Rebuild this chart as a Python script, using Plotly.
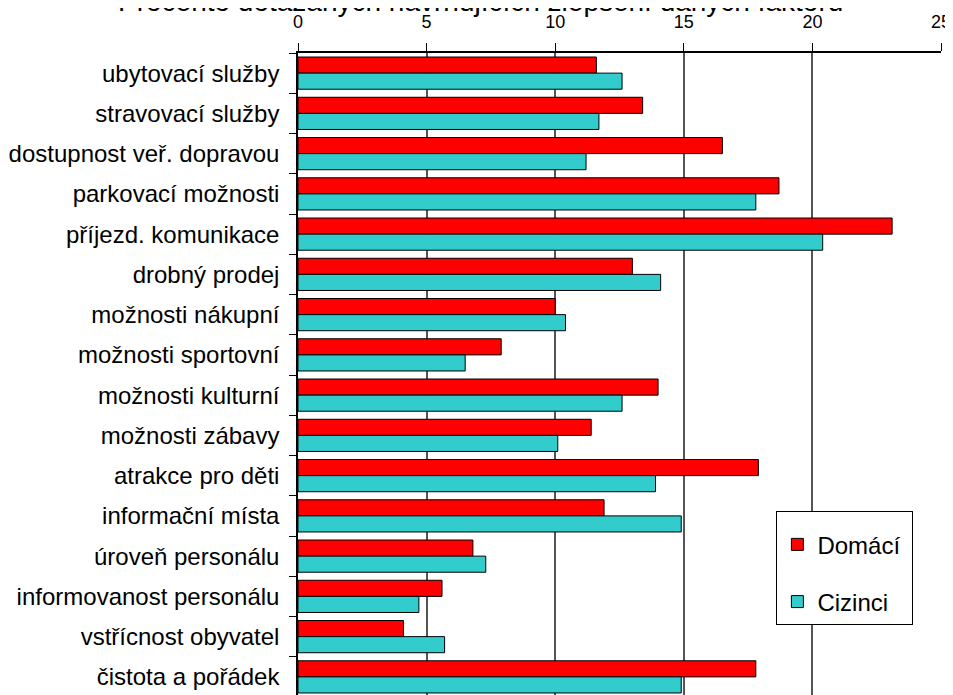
import plotly.graph_objects as go

# kategorie (shora dolů) a hodnoty v %
categories = [
    "ubytovací služby",
    "stravovací služby",
    "dostupnost veř. dopravou",
    "parkovací možnosti",
    "příjezd. komunikace",
    "drobný prodej",
    "možnosti nákupní",
    "možnosti sportovní",
    "možnosti kulturní",
    "možnosti zábavy",
    "atrakce pro děti",
    "informační místa",
    "úroveň personálu",
    "informovanost personálu",
    "vstřícnost obyvatel",
    "čistota a pořádek",
]
domaci = [11.6, 13.4, 16.5, 18.7, 23.1, 13.0, 10.0, 7.9, 14.0, 11.4, 17.9, 11.9, 6.8, 5.6, 4.1, 17.8]
cizinci = [12.6, 11.7, 11.2, 17.8, 20.4, 14.1, 10.4, 6.5, 12.6, 10.1, 13.9, 14.9, 7.3, 4.7, 5.7, 14.9]
x_ticks = [0, 5, 10, 15, 20, 25]

FONT = "Liberation Sans, Arial, sans-serif"

# stránka má okraj body 8 px -> okraje grafu o to menší
fig = go.Figure()
fig.add_trace(go.Bar(
    y=categories, x=domaci, name="Domácí\u00a0", orientation="h",
    marker=dict(color="#FF0000", line=dict(color="#000000", width=1)),
    legendgroup="d",
))
fig.add_trace(go.Bar(
    y=categories, x=cizinci, name="Cizinci", orientation="h",
    marker=dict(color="#33CCCC", line=dict(color="#000000", width=1)),
    legendgroup="c",
))

fig.update_layout(
    width=953, height=695,
    margin=dict(l=290, r=20, t=45, b=6, autoexpand=False),
    paper_bgcolor="white", plot_bgcolor="white",
    font=dict(family=FONT, color="black"),
    barmode="group", bargap=0.2, bargroupgap=0,
    showlegend=True,
    legend=dict(
        x=0.744, y=0.289, xanchor="left", yanchor="top",
        bgcolor="white", bordercolor="black", borderwidth=1,
        font=dict(size=24, family=FONT),
        title=dict(text=" ", font=dict(size=8)),
        traceorder="grouped", tracegroupgap=23,
    ),
    annotations=[dict(
        text="Procento dotázaných navrhujících zlepšení daných faktorů",
        xref="paper", yref="paper", x=(472 - 290) / 643, y=1.053,
        xanchor="center", yanchor="bottom", showarrow=False,
        font=dict(size=28, family=FONT),
    )],
)

fig.update_xaxes(
    side="top", range=[0, 25], tickvals=x_ticks,
    showgrid=True, gridcolor="#555555", gridwidth=1.5,
    showline=True, linecolor="black", linewidth=1.5,
    ticks="outside", ticklen=8, tickcolor="black",
    tickfont=dict(size=18), ticklabelstandoff=8,
    zeroline=False, fixedrange=True, automargin=False,
)
fig.update_yaxes(
    autorange="reversed", type="category",
    showline=True, linecolor="black", linewidth=1.5,
    ticks="outside", ticklen=7, tickcolor="black", tickson="boundaries",
    tickfont=dict(size=24), ticklabelstandoff=12,
    showgrid=False, fixedrange=True, automargin=False,
)

fig.write_html("out.html")
